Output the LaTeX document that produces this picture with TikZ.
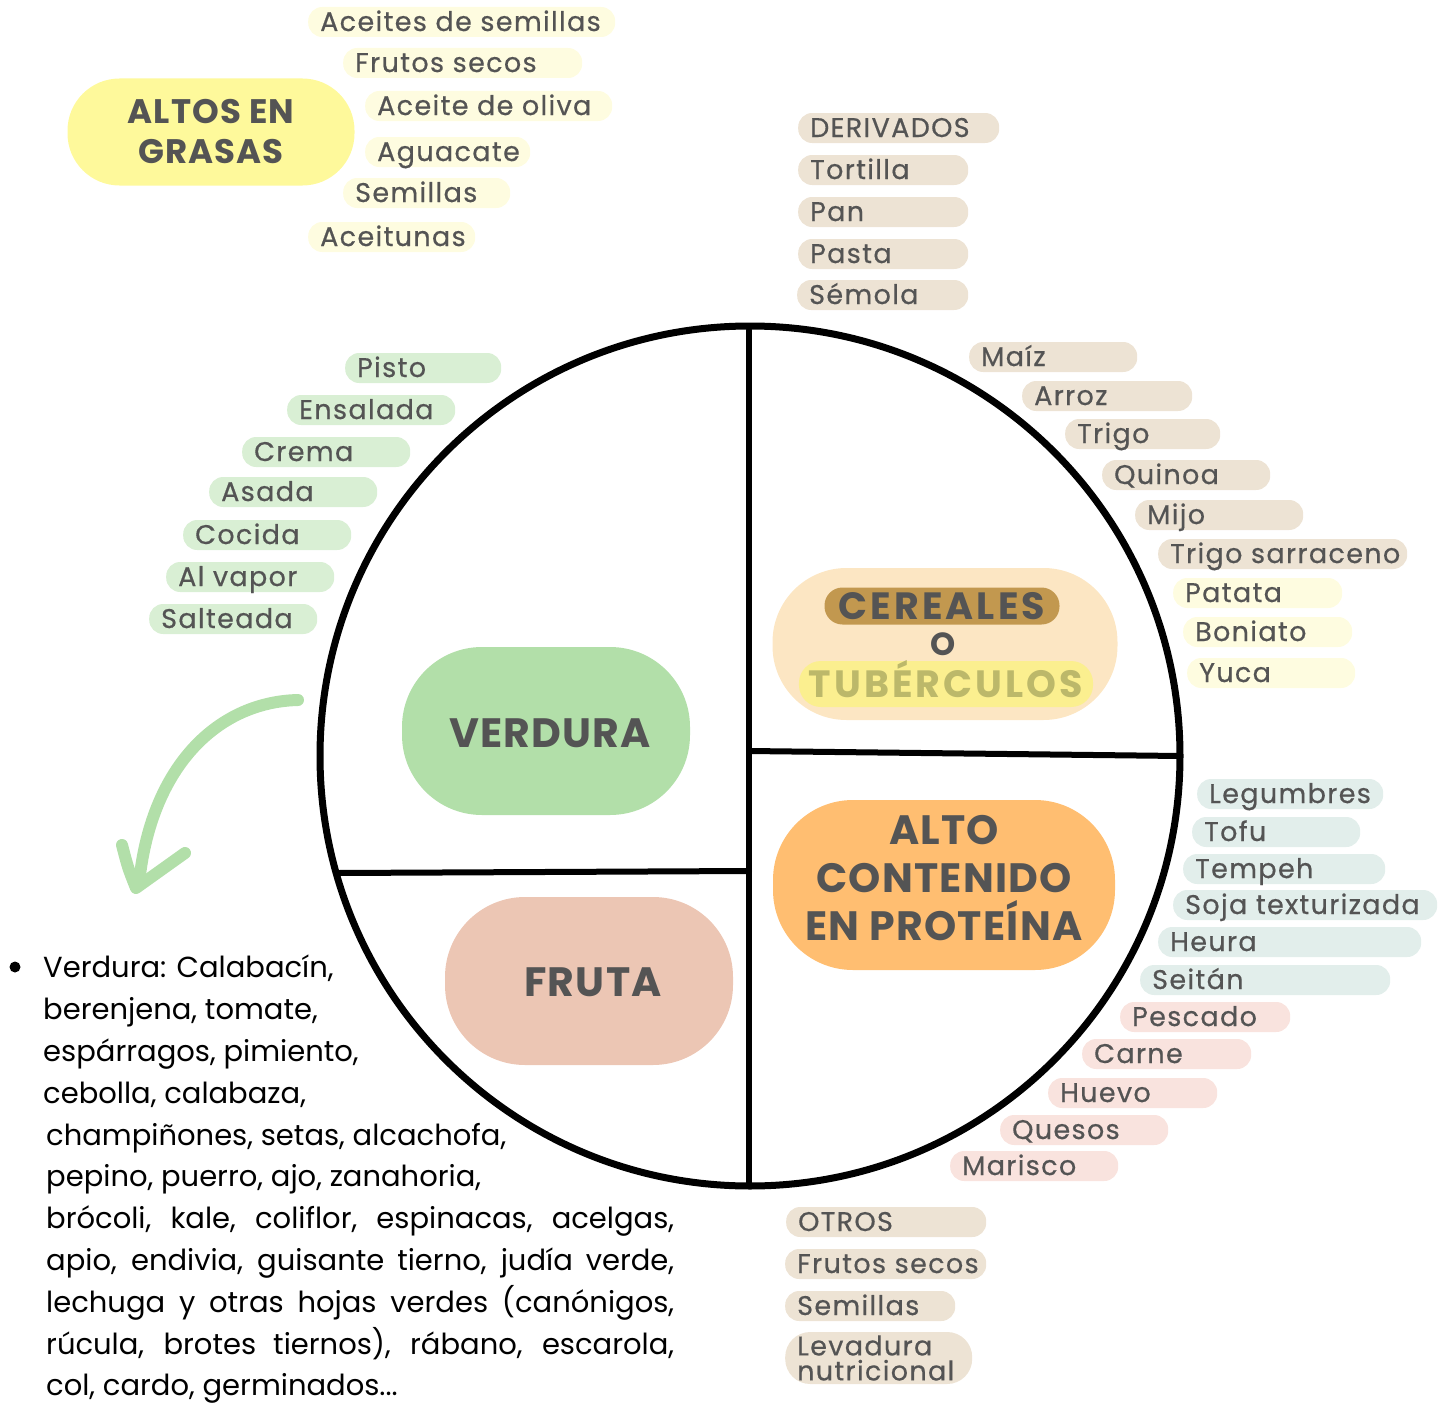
\documentclass[tikz,border=0pt]{standalone}
\usepackage{fontspec}
\setmainfont{Poppins}
\newfontfamily\tagfont{Poppins}[LetterSpace=5, FakeBold=0.5]
\newfontfamily\headfont{Poppins}[LetterSpace=3]
\newfontfamily\markfont{Poppins}[LetterSpace=8]
\usetikzlibrary{calc}
\definecolor{PlateInk}{gray}{0.0}
\definecolor{LabelInk}{HTML}{545454}
\definecolor{TagBeige}{HTML}{EDE3D4}
\definecolor{TagYellow}{HTML}{FEFCE0}
\definecolor{TagGreen}{HTML}{D9EFD4}
\definecolor{TagTeal}{HTML}{E2EEEB}
\definecolor{TagPink}{HTML}{F9E3DE}
\definecolor{BlobGreen}{HTML}{B2DFA9}
\definecolor{BlobPink}{HTML}{ECC6B4}
\definecolor{BlobCream}{HTML}{FCE6C3}
\definecolor{BlobOrange}{HTML}{FFBE71}
\definecolor{BlobYellow}{HTML}{FEF99B}
\definecolor{MarkBrown}{HTML}{C2984F}
\definecolor{MarkYellow}{HTML}{FBEF8F}
\definecolor{MarkOlive}{HTML}{BCB86A}
\tikzset{
    plate/diagram/.style={
        x=1pt, y=-1pt,
        line cap=round,
        line join=round,
        every node/.style={text=LabelInk}
    },
    plate/rim/.style={draw=PlateInk, line width=7pt},
    plate/split/.style={draw=PlateInk, line width=6pt},
    plate/blob/.style={
        align=center, inner sep=0pt,
        font=\headfont\bfseries\fontsize{41}{48}\selectfont
    },
    plate/mark/.style={
        inner xsep=10pt, inner ysep=0pt, text height=27pt, text depth=0pt,
        font=\markfont\bfseries\fontsize{38}{38}\selectfont
    },
    plate/tag/.style={
        anchor=west, rounded corners=14pt, minimum height=30pt,
        inner xsep=12pt, inner ysep=0pt, text height=20pt, text depth=2pt,
        font=\tagfont\fontsize{27}{27}\selectfont
    },
    plate/arrow/.style={draw=BlobGreen, line width=12pt}
}
\begin{document}
\begin{tikzpicture}[plate/diagram]
    \useasboundingbox (0,0) rectangle (1452,1405);
    \draw[plate/rim] (750,756) circle (430);
    \draw[plate/split] (749,330) -- (749,1186);
    \draw[plate/split] (338,873) -- (749,871);
    \draw[plate/split] (749,751) -- (1180,756);
    \node[plate/blob, fill=BlobYellow, minimum width=287pt, minimum height=107pt,
        rounded corners=52pt, font=\headfont\bfseries\fontsize{34}{40}\selectfont]
        (grasas) at (211,132) {ALTOS EN\\GRASAS};
    \node[plate/blob, fill=BlobGreen, minimum width=288pt, minimum height=168pt,
        rounded corners=80pt] (verdura) at (546,731) {};
    \node[plate/blob] (verduraT) at (550,733) {VERDURA};
    \node[plate/blob, fill=BlobPink, minimum width=288pt, minimum height=168pt,
        rounded corners=80pt] (fruta) at (589,981) {};
    \node[plate/blob] (frutaT) at (593,982) {FRUTA};
    \node[plate/blob, fill=BlobCream, minimum width=345pt, minimum height=152pt,
        rounded corners=74pt] (cereal) at (945,644) {};
    \node[plate/mark, fill=MarkBrown, minimum width=235pt, minimum height=37pt,
        rounded corners=18pt] (cerealA) at (942,606) {CEREALES};
    \node[plate/blob, font=\headfont\bfseries\fontsize{32}{32}\selectfont]
        (cerealO) at (943,644) {O};
    \node[plate/mark, fill=MarkYellow, text=MarkOlive, minimum width=293pt,
        minimum height=46pt, rounded corners=22pt] (cerealB) at (946,684) {TUBÉRCULOS};
    \node[plate/blob, fill=BlobOrange, minimum width=342pt, minimum height=170pt,
        rounded corners=80pt] (proteina) at (944,885) {};
    \node[plate/blob] (proteinaT) at (944,878) {ALTO\\CONTENIDO\\EN PROTEÍNA};
    \foreach \x/\y/\w/\t [count=\i] in {308/22/283/Aceites de semillas,
        343/63/215/Frutos secos, 365/106/223/Aceite de oliva, 365/152/141/Aguacate,
        343/193/143/Semillas, 308/237/143/Aceitunas} {
        \node[plate/tag, fill=TagYellow] (grasa\i) at (\x,\y) {\makebox[\w pt][l]{\t}};
    }
    \foreach \x/\y/\w/\t [count=\i] in {798/128/177/DERIVADOS, 798/170/146/Tortilla,
        798/212/146/Pan, 798/254/146/Pasta, 797/295/147/Sémola,
        969/357/144/Maíz, 1022/396/146/Arroz, 1065/434/131/Trigo,
        1102/475/144/Quinoa, 1135/515/144/Mijo, 1158/554/225/Trigo sarraceno} {
        \node[plate/tag, fill=TagBeige] (cereal\i) at (\x,\y) {\makebox[\w pt][l]{\t}};
    }
    \foreach \x/\y/\w/\t [count=\i] in {1173/593/145/Patata, 1183/632/145/Boniato,
        1187/673/144/Yuca} {
        \node[plate/tag, fill=TagYellow] (tuberculo\i) at (\x,\y) {\makebox[\w pt][l]{\t}};
    }
    \foreach \x/\y/\w/\t [count=\i] in {1197/794/162/Legumbres, 1192/832/144/Tofu,
        1183/869/178/Tempeh, 1173/905/240/Soja texturizada, 1158/942/239/Heura,
        1140/980/226/Seitán} {
        \node[plate/tag, fill=TagTeal] (vegetal\i) at (\x,\y) {\makebox[\w pt][l]{\t}};
    }
    \foreach \x/\y/\w/\t [count=\i] in {1120/1017/146/Pescado, 1082/1054/145/Carne,
        1048/1093/145/Huevo, 1000/1130/144/Quesos, 950/1166/144/Marisco} {
        \node[plate/tag, fill=TagPink] (animal\i) at (\x,\y) {\makebox[\w pt][l]{\t}};
    }
    \foreach \x/\y/\w/\t [count=\i] in {786/1222/176/OTROS, 785/1264/177/Frutos secos,
        785/1306/146/Semillas} {
        \node[plate/tag, fill=TagBeige] (otro\i) at (\x,\y) {\makebox[\w pt][l]{\t}};
    }
    \node[plate/tag, fill=TagBeige, rounded corners=25pt, minimum height=52pt,
        text height=, text depth=, align=left, text width=163pt,
        font=\tagfont\fontsize{27}{25}\selectfont] (otro4) at (785,1358)
        {Levadura\\nutricional};
    \foreach \x/\y/\w/\t [count=\i] in {345/368/132/Pisto, 287/410/144/Ensalada,
        242/452/144/Crema, 209/492/144/Asada, 183/535/144/Cocida,
        166/577/144/Al vapor, 149/619/144/Salteada} {
        \node[plate/tag, fill=TagGreen] (preparacion\i) at (\x,\y) {\makebox[\w pt][l]{\t}};
    }
    \draw[plate/arrow] (298,700) .. controls (215,702) and (150,770) .. (139,884);
    \draw[plate/arrow] (122,845) .. controls (128,868) .. (136,888) -- (185,853);
    \node[circle, fill=black, inner sep=0pt, minimum size=11pt] (punto) at (15,967) {};
    \node[anchor=north west, align=left, text=black, inner sep=0pt,
        font=\fontsize{29}{41.8}\selectfont] (lista) at (43,955)
        {Verdura: Calabacín,\\
        berenjena, tomate,\\
        espárragos, pimiento,\\
        cebolla, calabaza,\\
        \hspace*{3pt}champiñones, setas, alcachofa,\\
        \hspace*{3pt}pepino, puerro, ajo, zanahoria,\\
        \hspace*{3pt}\makebox[628pt][s]{brócoli, kale, coliflor, espinacas, acelgas,}\\
        \hspace*{3pt}\makebox[628pt][s]{apio, endivia, guisante tierno, judía verde,}\\
        \hspace*{3pt}\makebox[628pt][s]{lechuga y otras hojas verdes (canónigos,}\\
        \hspace*{3pt}\makebox[628pt][s]{rúcula, brotes tiernos), rábano, escarola,}\\
        \hspace*{3pt}col, cardo, germinados...};
\end{tikzpicture}
\end{document}
